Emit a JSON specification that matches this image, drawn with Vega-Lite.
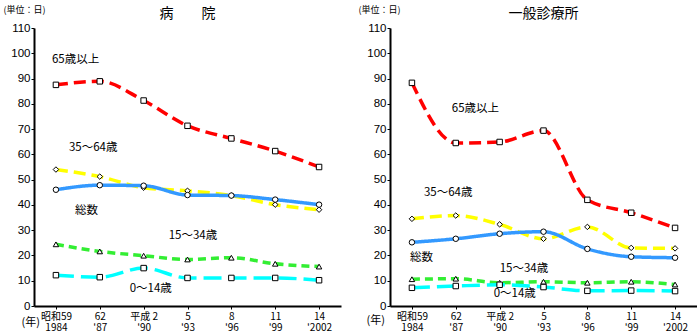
{
  "$schema": "https://vega.github.io/schema/vega-lite/v6.json",
  "background": "white",
  "padding": {"left": 3, "top": 5, "right": 0, "bottom": 0},
  "spacing": 17,
  "datasets": {
    "main": [
      {"p":"L","x":"昭和59|1984","s":"65歳以上","v":87.5},{"p":"L","x":"62|'87","s":"65歳以上","v":88.9},{"p":"L","x":"平成 2|'90","s":"65歳以上","v":81.3},{"p":"L","x":"5|'93","s":"65歳以上","v":71.3},{"p":"L","x":"8|'96","s":"65歳以上","v":66.3},{"p":"L","x":"11|'99","s":"65歳以上","v":61.3},{"p":"L","x":"14|'2002","s":"65歳以上","v":55.0},
      {"p":"L","x":"昭和59|1984","s":"35～64歳","v":54.0},{"p":"L","x":"62|'87","s":"35～64歳","v":51.2},{"p":"L","x":"平成 2|'90","s":"35～64歳","v":46.8},{"p":"L","x":"5|'93","s":"35～64歳","v":45.6},{"p":"L","x":"8|'96","s":"35～64歳","v":43.7},{"p":"L","x":"11|'99","s":"35～64歳","v":40.1},{"p":"L","x":"14|'2002","s":"35～64歳","v":38.1},
      {"p":"L","x":"昭和59|1984","s":"総数","v":46.0},{"p":"L","x":"62|'87","s":"総数","v":47.8},{"p":"L","x":"平成 2|'90","s":"総数","v":47.6},{"p":"L","x":"5|'93","s":"総数","v":43.9},{"p":"L","x":"8|'96","s":"総数","v":43.7},{"p":"L","x":"11|'99","s":"総数","v":42.1},{"p":"L","x":"14|'2002","s":"総数","v":40.1},
      {"p":"L","x":"昭和59|1984","s":"15～34歳","v":24.4},{"p":"L","x":"62|'87","s":"15～34歳","v":21.6},{"p":"L","x":"平成 2|'90","s":"15～34歳","v":19.9},{"p":"L","x":"5|'93","s":"15～34歳","v":18.4},{"p":"L","x":"8|'96","s":"15～34歳","v":19.1},{"p":"L","x":"11|'99","s":"15～34歳","v":16.7},{"p":"L","x":"14|'2002","s":"15～34歳","v":15.6},
      {"p":"L","x":"昭和59|1984","s":"0～14歳","v":12.2},{"p":"L","x":"62|'87","s":"0～14歳","v":11.4},{"p":"L","x":"平成 2|'90","s":"0～14歳","v":15.0},{"p":"L","x":"5|'93","s":"0～14歳","v":11.1},{"p":"L","x":"8|'96","s":"0～14歳","v":11.1},{"p":"L","x":"11|'99","s":"0～14歳","v":11.1},{"p":"L","x":"14|'2002","s":"0～14歳","v":10.2},
      {"p":"R","x":"昭和59|1984","s":"65歳以上","v":88.3},{"p":"R","x":"62|'87","s":"65歳以上","v":64.5},{"p":"R","x":"平成 2|'90","s":"65歳以上","v":64.9},{"p":"R","x":"5|'93","s":"65歳以上","v":69.4},{"p":"R","x":"8|'96","s":"65歳以上","v":42.0},{"p":"R","x":"11|'99","s":"65歳以上","v":36.9},{"p":"R","x":"14|'2002","s":"65歳以上","v":30.9},
      {"p":"R","x":"昭和59|1984","s":"35～64歳","v":34.5},{"p":"R","x":"62|'87","s":"35～64歳","v":35.8},{"p":"R","x":"平成 2|'90","s":"35～64歳","v":32.3},{"p":"R","x":"5|'93","s":"35～64歳","v":26.6},{"p":"R","x":"8|'96","s":"35～64歳","v":31.3},{"p":"R","x":"11|'99","s":"35～64歳","v":23.0},{"p":"R","x":"14|'2002","s":"35～64歳","v":22.8},
      {"p":"R","x":"昭和59|1984","s":"総数","v":25.2},{"p":"R","x":"62|'87","s":"総数","v":26.6},{"p":"R","x":"平成 2|'90","s":"総数","v":28.6},{"p":"R","x":"5|'93","s":"総数","v":29.4},{"p":"R","x":"8|'96","s":"総数","v":22.6},{"p":"R","x":"11|'99","s":"総数","v":19.5},{"p":"R","x":"14|'2002","s":"総数","v":19.1},
      {"p":"R","x":"昭和59|1984","s":"15～34歳","v":10.6},{"p":"R","x":"62|'87","s":"15～34歳","v":10.8},{"p":"R","x":"平成 2|'90","s":"15～34歳","v":9.2},{"p":"R","x":"5|'93","s":"15～34歳","v":9.6},{"p":"R","x":"8|'96","s":"15～34歳","v":9.2},{"p":"R","x":"11|'99","s":"15～34歳","v":9.6},{"p":"R","x":"14|'2002","s":"15～34歳","v":8.5},
      {"p":"R","x":"昭和59|1984","s":"0～14歳","v":7.2},{"p":"R","x":"62|'87","s":"0～14歳","v":7.9},{"p":"R","x":"平成 2|'90","s":"0～14歳","v":8.4},{"p":"R","x":"5|'93","s":"0～14歳","v":7.5},{"p":"R","x":"8|'96","s":"0～14歳","v":6.0},{"p":"R","x":"11|'99","s":"0～14歳","v":6.1},{"p":"R","x":"14|'2002","s":"0～14歳","v":5.9}
    ]
  },
  "config": {
    "view": {"stroke": null},
    "axis": {"domainColor": "black", "domainWidth": 2, "tickColor": "black", "tickSize": 3, "tickWidth": 1, "labelColor": "black", "titleColor": "black", "grid": false, "labelFont": "Liberation Sans", "labelFontSize": 11.5, "titleFontWeight": "normal"},
    "title": {"font": "Noto Sans CJK JP", "fontSize": 14, "fontWeight": "normal", "color": "black", "offset": -16},
    "text": {"font": "Noto Sans CJK JP", "fontSize": 11.5, "color": "black", "align": "left", "baseline": "middle"},
    "line": {"interpolate": "monotone", "strokeWidth": 3.5},
    "point": {"filled": false, "fill": "white", "fillOpacity": 1, "stroke": "black", "strokeWidth": 1, "size": 30, "opacity": 1}
  },
  "hconcat": [
    {
      "title": "病　　院",
      "width": 307,
      "height": 278,
      "encoding": {
        "x": {"field": "x", "type": "ordinal", "sort": null,
          "scale": {"type": "point", "padding": 0.5, "domain": ["昭和59|1984","62|'87","平成 2|'90","5|'93","8|'96","11|'99","14|'2002"]},
          "axis": {"labelExpr": "split(datum.value, '|')", "labelFont": "Noto Sans CJK JP", "labelFontSize": 10, "labelLineHeight": 11, "labelAngle": 0, "labelPadding": 2, "labelOverlap": false, "title": "(年)", "titleFont": "Noto Sans CJK JP", "titleFontSize": 11, "titleAlign": "left", "titleBaseline": "middle", "titleX": -13, "titleY": 16}},
        "y": {"field": "v", "type": "quantitative", "scale": {"domain": [0, 110], "nice": false},
          "axis": {"values": [0,10,20,30,40,50,60,70,80,90,100,110], "labelOverlap": false, "labelBound": false, "labelFlush": false, "labelPadding": 1, "title": "(単位：日)", "titleFont": "Noto Sans CJK JP", "titleFontSize": 9, "titleAngle": 0, "titleAlign": "left", "titleBaseline": "middle", "titleX": -31, "titleY": -19}}
      },
      "layer": [
        {
          "data": {"name": "main"},
          "transform": [{"filter": "datum.p == 'L'"}],
          "mark": {"type": "line"},
          "encoding": {
            "color": {"field": "s", "type": "nominal", "legend": null,
              "scale": {"domain": ["65歳以上","35～64歳","総数","15～34歳","0～14歳"], "range": ["#ff0000","#ffff00","#3399ff","#33ee33","#00ffff"]}},
            "strokeDash": {"field": "s", "type": "nominal", "legend": null,
              "scale": {"domain": ["65歳以上","35～64歳","総数","15～34歳","0～14歳"], "range": [[12,6],[12,6],[1,0],[8,5],[18,7]]}}
          }
        },
        {
          "data": {"name": "main"},
          "transform": [{"filter": "datum.p == 'L'"}],
          "mark": {"type": "point"},
          "encoding": {
            "shape": {"field": "s", "type": "nominal", "legend": null,
              "scale": {"domain": ["65歳以上","35～64歳","総数","15～34歳","0～14歳"], "range": ["square","diamond","circle","triangle-up","square"]}}
          }
        },
        {"data": {"values": [{"x": "昭和59|1984", "v": 97.5, "t": "65歳以上"}]}, "mark": {"type": "text", "dx": -4}, "encoding": {"text": {"field": "t"}}},
        {"data": {"values": [{"x": "昭和59|1984", "v": 62.6, "t": "35～64歳"}]}, "mark": {"type": "text", "dx": 13}, "encoding": {"text": {"field": "t"}}},
        {"data": {"values": [{"x": "昭和59|1984", "v": 37.7, "t": "総数"}]}, "mark": {"type": "text", "dx": 19}, "encoding": {"text": {"field": "t"}}},
        {"data": {"values": [{"x": "平成 2|'90", "v": 27.8, "t": "15～34歳"}]}, "mark": {"type": "text", "dx": 25}, "encoding": {"text": {"field": "t"}}},
        {"data": {"values": [{"x": "平成 2|'90", "v": 6.9, "t": "0～14歳"}]}, "mark": {"type": "text", "dx": -14}, "encoding": {"text": {"field": "t"}}}
      ]
    },
    {
      "title": "一般診療所",
      "width": 307,
      "height": 278,
      "encoding": {
        "x": {"field": "x", "type": "ordinal", "sort": null,
          "scale": {"type": "point", "padding": 0.5, "domain": ["昭和59|1984","62|'87","平成 2|'90","5|'93","8|'96","11|'99","14|'2002"]},
          "axis": {"labelExpr": "split(datum.value, '|')", "labelFont": "Noto Sans CJK JP", "labelFontSize": 10, "labelLineHeight": 11, "labelAngle": 0, "labelPadding": 2, "labelOverlap": false, "title": "(年)", "titleFont": "Noto Sans CJK JP", "titleFontSize": 11, "titleAlign": "left", "titleBaseline": "middle", "titleX": -24, "titleY": 14}},
        "y": {"field": "v", "type": "quantitative", "scale": {"domain": [0, 110], "nice": false},
          "axis": {"values": [0,10,20,30,40,50,60,70,80,90,100,110], "labelOverlap": false, "labelBound": false, "labelFlush": false, "labelPadding": 1, "title": "(単位：日)", "titleFont": "Noto Sans CJK JP", "titleFontSize": 9, "titleAngle": 0, "titleAlign": "left", "titleBaseline": "middle", "titleX": -32, "titleY": -19}}
      },
      "layer": [
        {
          "data": {"name": "main"},
          "transform": [{"filter": "datum.p == 'R'"}],
          "mark": {"type": "line"},
          "encoding": {
            "color": {"field": "s", "type": "nominal", "legend": null,
              "scale": {"domain": ["65歳以上","35～64歳","総数","15～34歳","0～14歳"], "range": ["#ff0000","#ffff00","#3399ff","#33ee33","#00ffff"]}},
            "strokeDash": {"field": "s", "type": "nominal", "legend": null,
              "scale": {"domain": ["65歳以上","35～64歳","総数","15～34歳","0～14歳"], "range": [[12,6],[12,6],[1,0],[8,5],[18,7]]}}
          }
        },
        {
          "data": {"name": "main"},
          "transform": [{"filter": "datum.p == 'R'"}],
          "mark": {"type": "point"},
          "encoding": {
            "shape": {"field": "s", "type": "nominal", "legend": null,
              "scale": {"domain": ["65歳以上","35～64歳","総数","15～34歳","0～14歳"], "range": ["square","diamond","circle","triangle-up","square"]}}
          }
        },
        {"data": {"values": [{"x": "62|'87", "v": 78.0, "t": "65歳以上"}]}, "mark": {"type": "text", "dx": -4}, "encoding": {"text": {"field": "t"}}},
        {"data": {"values": [{"x": "昭和59|1984", "v": 44.8, "t": "35～64歳"}]}, "mark": {"type": "text", "dx": 12}, "encoding": {"text": {"field": "t"}}},
        {"data": {"values": [{"x": "昭和59|1984", "v": 18.9, "t": "総数"}]}, "mark": {"type": "text", "dx": -2}, "encoding": {"text": {"field": "t"}}},
        {"data": {"values": [{"x": "平成 2|'90", "v": 14.5, "t": "15～34歳"}]}, "mark": {"type": "text", "dx": 0}, "encoding": {"text": {"field": "t"}}},
        {"data": {"values": [{"x": "平成 2|'90", "v": 4.6, "t": "0～14歳"}]}, "mark": {"type": "text", "dx": -6}, "encoding": {"text": {"field": "t"}}}
      ]
    }
  ]
}
